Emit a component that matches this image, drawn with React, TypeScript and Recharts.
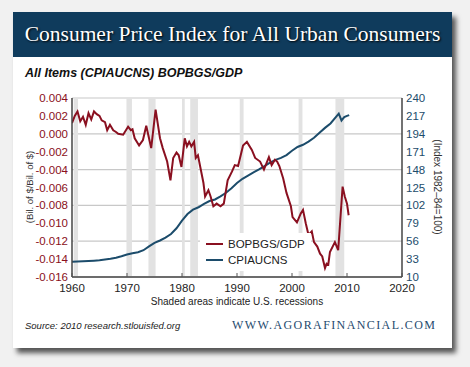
import React from 'react';
import { LineChart, Line, XAxis, YAxis, CartesianGrid, ReferenceArea, Legend } from 'recharts';

const bopDates = [1960.0, 1960.5, 1961.0, 1961.5, 1962.0, 1962.5, 1963.0, 1963.5, 1964.0, 1964.5, 1965.0, 1965.4, 1966.0, 1966.4, 1966.9, 1967.5, 1968.0, 1968.4, 1969.3, 1970.2, 1970.7, 1971.0, 1971.4, 1972.2, 1972.9, 1973.5, 1974.0, 1974.4, 1975.2, 1976.0, 1976.5, 1977.3, 1977.9, 1978.4, 1979.0, 1979.4, 1979.9, 1980.5, 1980.9, 1981.3, 1981.7, 1982.2, 1982.5, 1982.9, 1983.9, 1984.2, 1984.8, 1985.2, 1985.7, 1986.3, 1987.0, 1987.6, 1988.3, 1989.1, 1989.6, 1990.2, 1991.1, 1991.8, 1992.7, 1993.3, 1994.2, 1994.9, 1995.8, 1996.3, 1996.9, 1997.3, 1997.7, 1998.4, 1999.0, 1999.8, 2000.1, 2000.9, 2001.6, 2002.0, 2002.5, 2003.0, 2003.6, 2004.0, 2004.6, 2005.1, 2005.5, 2006.0, 2006.3, 2006.6, 2006.9, 2007.8, 2008.4, 2009.2, 2009.6, 2010.0, 2010.3];
const bopValues = [0.0012, 0.0020, 0.0025, 0.0014, 0.0019, 0.0010, 0.0023, 0.0016, 0.0025, 0.0022, 0.0020, 0.0015, 0.0013, 0.0004, 0.0010, 0.0004, 0.0002, 0.0000, -0.0001, 0.0008, 0.0004, 0.0005, -0.0005, -0.0013, -0.0007, 0.0009, -0.0005, -0.0016, 0.0027, -0.0005, -0.0016, -0.0031, -0.0052, -0.0027, -0.0021, -0.0024, -0.0037, -0.0005, -0.0014, -0.0009, -0.0014, -0.0009, -0.0027, -0.0024, -0.0055, -0.0070, -0.0063, -0.0070, -0.0081, -0.0078, -0.0081, -0.0078, -0.0052, -0.0042, -0.0035, -0.0036, -0.0013, -0.0009, -0.0018, -0.0027, -0.0031, -0.0040, -0.0026, -0.0035, -0.0029, -0.0031, -0.0036, -0.0050, -0.0066, -0.0081, -0.0093, -0.0099, -0.0089, -0.0085, -0.0100, -0.0113, -0.0109, -0.0121, -0.0126, -0.0134, -0.0137, -0.0150, -0.0145, -0.0146, -0.0132, -0.0121, -0.0130, -0.0059, -0.0070, -0.0078, -0.0091];

const cpiDates = [1960, 1961, 1962, 1963, 1964, 1965, 1966, 1967, 1968, 1969, 1970, 1971, 1972, 1973, 1974, 1975, 1976, 1977, 1978, 1979, 1980, 1981, 1982, 1983, 1984, 1985, 1986, 1987, 1988, 1989, 1990, 1991, 1992, 1993, 1994, 1995, 1996, 1997, 1998, 1999, 2000, 2001, 2002, 2003, 2004, 2005, 2006, 2007, 2008.5, 2009.0, 2009.5, 2010.0, 2010.4];
const cpiValues = [29.6, 29.9, 30.2, 30.6, 31.0, 31.5, 32.4, 33.4, 34.8, 36.7, 38.8, 40.5, 41.8, 44.4, 49.3, 53.8, 56.9, 60.6, 65.2, 72.6, 82.4, 90.9, 96.5, 99.6, 103.9, 107.6, 109.6, 113.6, 118.3, 124.0, 130.7, 136.2, 140.3, 144.5, 148.2, 152.4, 156.9, 160.5, 163.0, 166.6, 172.2, 177.1, 179.9, 184.0, 188.9, 195.3, 201.6, 207.3, 220.0, 211.1, 215.4, 217.0, 218.0];

const recessions = [[1960.3, 1961.1], [1969.9, 1970.9], [1973.9, 1975.2], [1980.0, 1980.5], [1981.5, 1982.9], [1990.5, 1991.2], [2001.2, 2001.9], [2007.9, 2009.5]];

const xTicks = [1960, 1970, 1980, 1990, 2000, 2010, 2020];
const leftTicks = [0.004, 0.002, 0, -0.002, -0.004, -0.006, -0.008, -0.010, -0.012, -0.014, -0.016];
const rightTicks = [10, 33, 56, 79, 102, 125, 148, 171, 194, 217, 240];

const bopData = bopDates.map((d, i) => ({ date: d, bop: bopValues[i] }));
const cpiData = cpiDates.map((d, i) => ({ date: d, cpi: cpiValues[i] }));

const RED = '#8a1020';
const BLUE = '#1c4c6b';
const FONT = '"Liberation Sans", Arial, sans-serif';

const XTick = (props: any) => {
  const { x, y, payload } = props;
  return (
    <g>
      <line x1={x} x2={x} y1={y - 7} y2={y - 11} stroke="#555" strokeWidth={1} />
      <text x={x} y={y} dy="0.71em" textAnchor="middle" fontSize={11.5} fill="#222" fontFamily={FONT}>
        {payload.value}
      </text>
    </g>
  );
};

const LegendBox = () => (
  <div style={{ background: '#fff', padding: '3px 6px', fontFamily: FONT, fontSize: 11.5, color: '#222', lineHeight: '16px' }}>
    <div style={{ display: 'flex', alignItems: 'center' }}>
      <span style={{ display: 'inline-block', width: 17, height: 2, background: RED, marginRight: 5 }} />
      <span>BOPBGS/GDP</span>
    </div>
    <div style={{ display: 'flex', alignItems: 'center' }}>
      <span style={{ display: 'inline-block', width: 17, height: 2, background: BLUE, marginRight: 5 }} />
      <span>CPIAUCNS</span>
    </div>
  </div>
);

export default function App() {
  return (
    <div style={{ position: 'absolute', left: 0, top: 0, width: 470, height: 367, background: '#f1f1f1', overflow: 'hidden' }}>
      <div style={{ position: 'absolute', left: 13, top: 12, width: 439, height: 336, background: '#fff', boxShadow: '4px 5px 5px rgba(0,0,0,0.65)' }} />
      <div style={{ position: 'absolute', left: 13, top: 12, width: 439, height: 45, background: '#0f3b5c' }} />
      <div style={{ position: 'absolute', left: 13, top: 12, width: 439, height: 45, display: 'flex', alignItems: 'center', justifyContent: 'center', color: '#fff', fontFamily: '"Liberation Serif", "Times New Roman", serif', fontSize: 21.5, textShadow: '1px 1px 2px #000', whiteSpace: 'nowrap' }}>
        Consumer Price Index for All Urban Consumers
      </div>
      <div style={{ position: 'absolute', left: 25, top: 66, fontFamily: FONT, fontSize: 12.5, fontWeight: 'bold', fontStyle: 'italic', color: '#111', whiteSpace: 'nowrap' }}>
        All Items (CPIAUCNS) BOPBGS/GDP
      </div>
      <div style={{ position: 'absolute', left: 29, top: 187, width: 0, height: 0 }}>
        <div style={{ position: 'absolute', transform: 'translate(-50%, -50%) rotate(-90deg)', fontFamily: FONT, fontSize: 9.5, color: '#333', whiteSpace: 'nowrap' }}>
          (Bil. of $/Bil. of $)
        </div>
      </div>
      <div style={{ position: 'absolute', left: 437, top: 187, width: 0, height: 0 }}>
        <div style={{ position: 'absolute', transform: 'translate(-50%, -50%) rotate(90deg)', fontFamily: FONT, fontSize: 10, color: '#333', whiteSpace: 'nowrap' }}>
          (Index 1982–84=100)
        </div>
      </div>
      <div style={{ position: 'absolute', left: 72, width: 330, top: 296, textAlign: 'center', fontFamily: FONT, fontSize: 10, color: '#222', whiteSpace: 'nowrap' }}>
        Shaded areas indicate U.S. recessions
      </div>
      <div style={{ position: 'absolute', left: 25, top: 320, fontFamily: FONT, fontSize: 9.5, fontStyle: 'italic', color: '#222', whiteSpace: 'nowrap' }}>
        Source: 2010 research.stlouisfed.org
      </div>
      <div style={{ position: 'absolute', left: 232, top: 318, fontFamily: '"Liberation Serif", "Times New Roman", serif', fontSize: 12, letterSpacing: 1.4, color: '#1e4a6e', whiteSpace: 'nowrap' }}>
        WWW.AGORAFINANCIAL.COM
      </div>
      <div style={{ position: 'absolute', left: 0, top: 0 }}>
        <LineChart width={470} height={367} margin={{ top: 98, right: 0, bottom: 60, left: 0 }}>
          {recessions.map(([a, b], i) => (
            <ReferenceArea key={i} yAxisId="left" x1={a} x2={b} y1={-0.016} y2={0.004} fill="#e2e2e2" fillOpacity={1} stroke="none" />
          ))}
          <CartesianGrid yAxisId="left" vertical={false} stroke="#c8c8c8" strokeWidth={1.2} />
          <XAxis dataKey="date" type="number" domain={[1960, 2020]} ticks={xTicks} allowDataOverflow
            height={30} tickSize={0} tickMargin={7} tick={<XTick />} axisLine={{ stroke: '#444', strokeWidth: 1.5 }} />
          <YAxis yAxisId="left" orientation="left" width={72} domain={[-0.016, 0.004]} ticks={leftTicks} allowDataOverflow
            tickFormatter={(v: number) => v.toFixed(3)} tickSize={0} tickMargin={4} tickLine={false}
            tick={{ fill: RED, fontSize: 11.5, fontFamily: FONT }} axisLine={{ stroke: '#444', strokeWidth: 1.5 }} />
          <YAxis yAxisId="right" orientation="right" width={68} domain={[10, 240]} ticks={rightTicks} allowDataOverflow
            tickSize={0} tickMargin={4} tickLine={false}
            tick={{ fill: BLUE, fontSize: 11.5, fontFamily: FONT, textAnchor: 'start' }} axisLine={{ stroke: '#444', strokeWidth: 1.5 }} />
          <XAxis xAxisId="top" orientation="top" type="number" domain={[1960, 2020]} hide={false} height={0} tick={false} tickLine={false}
            axisLine={{ stroke: '#444', strokeWidth: 1.5 }} />
          <Line yAxisId="right" data={cpiData} dataKey="cpi" type="linear" stroke={BLUE} strokeWidth={2} dot={false} isAnimationActive={false} />
          <Line yAxisId="left" data={bopData} dataKey="bop" type="linear" stroke={RED} strokeWidth={2} dot={false} isAnimationActive={false} />
          <Legend layout="vertical" verticalAlign="middle" align="center" content={<LegendBox />}
            wrapperStyle={{ left: 200, top: 233, width: 'auto' }} />
        </LineChart>
      </div>
    </div>
  );
}
